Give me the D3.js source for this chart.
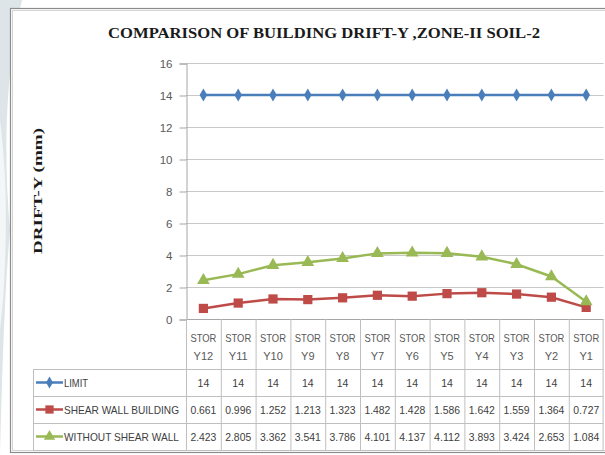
<!DOCTYPE html>
<html>
<head>
<meta charset="utf-8">
<script src="https://cdn.jsdelivr.net/npm/d3@7"></script>
<style>
  html, body { margin: 0; padding: 0; background: #fff; }
  svg { display: block; }
</style>
</head>
<body>
<svg id="chart" width="605" height="455"></svg>
<script>
// Storey-wise drift (mm), Y direction, Zone II, soil type 2
const stories = ["Y12","Y11","Y10","Y9","Y8","Y7","Y6","Y5","Y4","Y3","Y2","Y1"];
const limit = [14,14,14,14,14,14,14,14,14,14,14,14];
const shearWall = [0.661,0.996,1.252,1.213,1.323,1.482,1.428,1.586,1.642,1.559,1.364,0.727];
const withoutShearWall = [2.423,2.805,3.362,3.541,3.786,4.101,4.137,4.112,3.893,3.424,2.653,1.084];
const yTicks = [0,2,4,6,8,10,12,14,16];

const seriesList = [
  { name: "LIMIT", values: limit, color: "#4a7ebb", marker: "diamond", labelLen: 24 },
  { name: "SHEAR WALL BUILDING", values: shearWall, color: "#be4b48", marker: "square", labelLen: 115 },
  { name: "WITHOUT SHEAR WALL", values: withoutShearWall, color: "#98b954", marker: "triangle", labelLen: 115 }
];

const svg = d3.select("#chart");

// page backdrop with a pale swoosh behind the chart frame
svg.append("rect").attr("width", 605).attr("height", 455).attr("fill", "#fff");
svg.append("path")
  .attr("d", "M0,0 L22,0 C8,60 2,140 10,230 C4,300 2,380 0,455 Z")
  .attr("fill", "#dde5e9");
svg.append("path")
  .attr("d", "M0,120 C6,170 8,220 3,300 L0,330 Z")
  .attr("fill", "#f4f7f8");

// chart frame
svg.append("rect").attr("x", 10.5).attr("y", 8.5).attr("width", 620).attr("height", 444)
  .attr("fill", "#fff").attr("stroke", "#8c8c8c").attr("stroke-width", 1.2);
svg.append("rect").attr("x", 12.5).attr("y", 10.5).attr("width", 620).attr("height", 440)
  .attr("fill", "none").attr("stroke", "#d4d4d4").attr("stroke-width", 1);

const plotLeft = 186, colW = 34.8;
const plotRight = plotLeft + colW * stories.length;
const x = d3.scaleBand().domain(stories).range([plotLeft, plotRight]);
const y = d3.scaleLinear().domain([0, 16]).range([319, 63]);

// title
svg.append("text")
  .attr("x", 324).attr("y", 38)
  .attr("text-anchor", "middle")
  .attr("font-family", "'Liberation Serif', 'Times New Roman', serif")
  .attr("font-weight", "bold")
  .attr("font-size", 15.5)
  .attr("textLength", 432).attr("lengthAdjust", "spacingAndGlyphs")
  .attr("fill", "#1a1a1a")
  .text("COMPARISON OF BUILDING DRIFT-Y ,ZONE-II SOIL-2");

// y-axis title
svg.append("text")
  .attr("transform", "translate(42,191) rotate(-90)")
  .attr("text-anchor", "middle")
  .attr("font-family", "'Liberation Serif', 'Times New Roman', serif")
  .attr("font-weight", "bold")
  .attr("font-size", 13.5)
  .attr("textLength", 126).attr("lengthAdjust", "spacingAndGlyphs")
  .attr("fill", "#1a1a1a")
  .text("DRIFT-Y (mm)");

// gridlines
svg.append("g").selectAll("line").data(yTicks.filter(d => d > 0)).join("line")
  .attr("x1", plotLeft).attr("x2", plotRight)
  .attr("y1", d => y(d) + 0.5).attr("y2", d => y(d) + 0.5)
  .attr("stroke", "#c8c8c8").attr("stroke-width", 1);

// y axis
const yAxis = d3.axisLeft(y).tickValues(yTicks).tickSize(7).tickPadding(7);
const gy = svg.append("g").attr("transform", `translate(${plotLeft + 0.5},0.5)`).call(yAxis);
gy.select(".domain").attr("stroke", "#a6a6a6");
gy.selectAll(".tick line").attr("stroke", "#a6a6a6");
gy.selectAll(".tick text")
  .attr("font-family", "'Liberation Sans', sans-serif")
  .attr("font-size", 11.5).attr("fill", "#595959");

// data table grid
const tableLeft = 33;
const headerTop = 319, rowTops = [369, 396, 423], tableBottom = 450;
const tbl = svg.append("g").attr("stroke", "#bfbfbf").attr("stroke-width", 1);
tbl.append("line").attr("x1", plotLeft).attr("x2", plotRight).attr("y1", headerTop + 0.5).attr("y2", headerTop + 0.5).attr("stroke", "#a6a6a6");
rowTops.concat([tableBottom]).forEach(t => {
  tbl.append("line").attr("x1", tableLeft).attr("x2", plotRight).attr("y1", t + 0.5).attr("y2", t + 0.5);
});
tbl.append("line").attr("x1", tableLeft + 0.5).attr("x2", tableLeft + 0.5).attr("y1", rowTops[0]).attr("y2", tableBottom);
stories.forEach(s => {
  const bx = x(s);
  tbl.append("line").attr("x1", bx + 0.5).attr("x2", bx + 0.5).attr("y1", headerTop).attr("y2", tableBottom);
});
tbl.append("line").attr("x1", plotRight - 0.5).attr("x2", plotRight - 0.5).attr("y1", headerTop).attr("y2", tableBottom);

const tableFont = "'Liberation Sans', sans-serif";

// category headers
const hdr = svg.append("g").attr("font-family", tableFont).attr("font-size", 11)
  .attr("fill", "#595959").attr("text-anchor", "middle");
stories.forEach(s => {
  const cx = x(s) + x.bandwidth() / 2;
  hdr.append("text").attr("x", cx).attr("y", 342)
    .attr("textLength", 26).attr("lengthAdjust", "spacingAndGlyphs").text("STOR");
  hdr.append("text").attr("x", cx).attr("y", 360).text(s);
});

// marker shapes
function markerPath(kind, size) {
  const t = kind === "diamond" ? d3.symbolDiamond : kind === "square" ? d3.symbolSquare : d3.symbolTriangle;
  return d3.symbol().type(t).size(size)();
}
const markerSize = { diamond: 50, square: 85, triangle: 70 };

// table rows: legend key + values
seriesList.forEach((s, r) => {
  const cy = rowTops[r] + 13.5;
  const g = svg.append("g");
  g.append("line").attr("x1", 36).attr("x2", 63).attr("y1", cy).attr("y2", cy)
    .attr("stroke", s.color).attr("stroke-width", 2.5);
  g.append("path").attr("d", markerPath(s.marker, markerSize[s.marker] * 0.8))
    .attr("transform", `translate(49.5,${cy})`).attr("fill", s.color);
  g.append("text").attr("x", 64).attr("y", cy + 4)
    .attr("font-family", tableFont).attr("font-size", 11).attr("fill", "#404040")
    .attr("textLength", s.labelLen).attr("lengthAdjust", "spacingAndGlyphs")
    .text(s.name);
  g.selectAll("text.v").data(s.values).join("text").attr("class", "v")
    .attr("x", (d, i) => x(stories[i]) + x.bandwidth() / 2)
    .attr("y", cy + 4)
    .attr("text-anchor", "middle")
    .attr("font-family", tableFont).attr("font-size", 10.5).attr("fill", "#404040")
    .attr("textLength", d => String(d).length > 2 ? 26 : null)
    .attr("lengthAdjust", "spacingAndGlyphs")
    .text(d => d);
});

// series lines + markers
const line = d3.line()
  .x((d, i) => x(stories[i]) + x.bandwidth() / 2)
  .y(d => y(d));
seriesList.forEach(s => {
  svg.append("path").datum(s.values).attr("d", line)
    .attr("fill", "none").attr("stroke", s.color).attr("stroke-width", 2.5)
    .attr("stroke-linejoin", "round");
  svg.append("g").selectAll("path").data(s.values).join("path")
    .attr("d", markerPath(s.marker, markerSize[s.marker]))
    .attr("transform", (d, i) => `translate(${x(stories[i]) + x.bandwidth() / 2},${y(d)})`)
    .attr("fill", s.color);
});
</script>
</body>
</html>
